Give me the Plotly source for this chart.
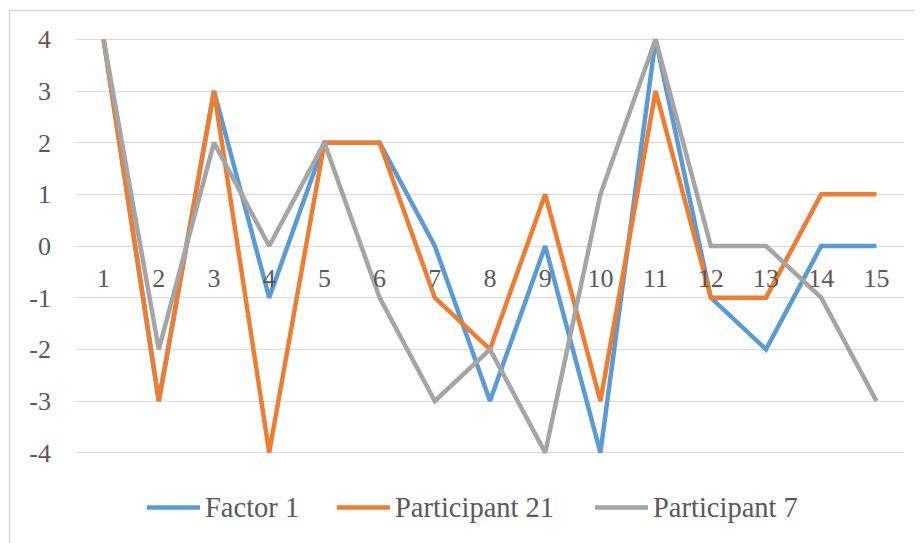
import plotly.graph_objects as go

categories = [str(i) for i in range(1, 16)]
factor1 = [4, -3, 3, -1, 2, 2, 0, -3, 0, -4, 4, -1, -2, 0, 0]
participant21 = [4, -3, 3, -4, 2, 2, -1, -2, 1, -3, 3, -1, -1, 1, 1]
participant7 = [4, -2, 2, 0, 2, -1, -3, -2, -4, 1, 4, 0, 0, -1, -3]
series_names = ["Factor 1", "Participant 21", "Participant 7"]
series_colors = ["#5B9BD5", "#ED7D31", "#A5A5A5"]
y_ticks = [-4, -3, -2, -1, 0, 1, 2, 3, 4]

FONT = "Liberation Serif"
TEXT = "#595959"

# page body has an 8px margin: plot area on screen spans x 76..904, y 29..463
OFF = 8
L, T, PW, PH = 76 - OFF, 29 - OFF, 828, 434


def px(x):
    return (x - 76) / PW


def py(y):
    return (463 - y) / PH


fig = go.Figure()
for name, vals, col in zip(series_names, [factor1, participant21, participant7], series_colors):
    fig.add_trace(go.Scatter(
        x=categories, y=vals, name=name, mode="lines",
        line=dict(color=col, width=4.5), showlegend=False,
    ))

# manual legend (longer line samples like the original)
legend_x = [147, 337, 595]
shapes = [dict(
    type="rect", xref="paper", yref="paper",
    x0=px(9.5), x1=px(940), y0=py(560), y1=py(10.5),
    line=dict(color="#D9D9D9", width=1.3), fillcolor="rgba(0,0,0,0)", layer="below",
)]
annotations = []
for name, col, lx in zip(series_names, series_colors, legend_x):
    shapes.append(dict(
        type="line", xref="paper", yref="paper",
        x0=px(lx), x1=px(lx + 53), y0=py(507.5), y1=py(507.5),
        line=dict(color=col, width=4.5),
    ))
    annotations.append(dict(
        text=name, xref="paper", yref="paper", x=px(lx + 56), y=py(507),
        xanchor="left", yanchor="middle", showarrow=False,
        font=dict(family=FONT, color=TEXT, size=28.5),
    ))

fig.update_layout(
    width=922, height=543,
    margin=dict(l=L, r=922 - L - PW, t=T, b=543 - T - PH),
    paper_bgcolor="white", plot_bgcolor="white",
    font=dict(family=FONT, color=TEXT, size=26),
    showlegend=False,
    xaxis=dict(
        type="category", categoryorder="array", categoryarray=categories,
        range=[-0.5, 14.5], showgrid=False, zeroline=False, showline=False,
        ticks="", anchor="free", position=0.5, ticklabelstandoff=14,
        tickfont=dict(family=FONT, color=TEXT, size=26),
    ),
    yaxis=dict(
        range=[-4.2, 4.2], tickvals=y_ticks, ticktext=[str(v) for v in y_ticks],
        showgrid=True, gridcolor="#D9D9D9", gridwidth=1.3,
        zeroline=False, showline=False, ticks="", ticklabelstandoff=24,
        tickfont=dict(family=FONT, color=TEXT, size=26),
    ),
    shapes=shapes,
    annotations=annotations,
)

fig.write_html("out.html")
